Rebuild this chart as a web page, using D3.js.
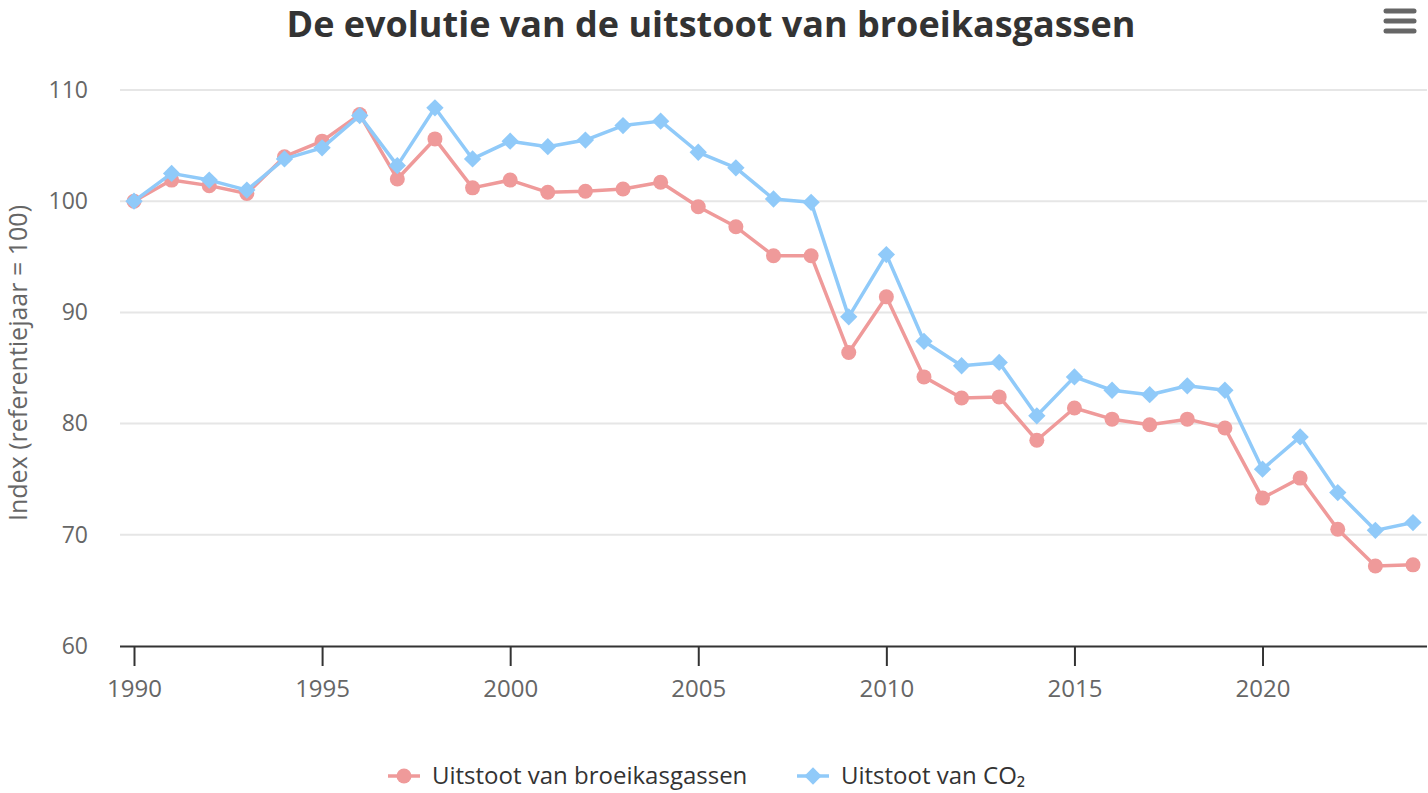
<!DOCTYPE html>
<html>
<head>
<meta charset="utf-8">
<script src="https://d3js.org/d3.v7.min.js"></script>
<style>
  body { margin: 0; background: #fff; }
  svg { display: block; font-family: "Open Sans", "Noto Sans", sans-serif; }
</style>
</head>
<body>
<svg width="1428" height="793"></svg>
<script>
// data
var years = d3.range(1990, 2025);
var ghg = [100.0, 101.9, 101.4, 100.7, 104.0, 105.4, 107.8, 102.0, 105.6, 101.2,
           101.9, 100.8, 100.9, 101.1, 101.7, 99.5, 97.7, 95.1, 95.1, 86.4,
           91.4, 84.2, 82.3, 82.4, 78.5, 81.4, 80.4, 79.9, 80.4, 79.6,
           73.3, 75.1, 70.5, 67.2, 67.3];
var co2 = [100.0, 102.5, 101.9, 101.0, 103.8, 104.8, 107.7, 103.2, 108.4, 103.8,
           105.4, 104.9, 105.5, 106.8, 107.2, 104.4, 103.0, 100.2, 99.9, 89.6,
           95.2, 87.4, 85.2, 85.5, 80.7, 84.2, 83.0, 82.6, 83.4, 83.0,
           75.9, 78.8, 73.8, 70.4, 71.1];
var yTicks = [60, 70, 80, 90, 100, 110];
var xTicks = [1990, 1995, 2000, 2005, 2010, 2015, 2020];
var seriesNames = ["Uitstoot van broeikasgassen", "Uitstoot van CO\u2082"];
var colors = ["#ef9a9a", "#90caf9"];

var svg = d3.select("svg");
var plotLeft = 120, plotRight = 1427, plotTop = 90, plotBottom = 646;

var x = d3.scaleLinear().domain([1990, 2024]).range([134, 1413]);
var y = d3.scaleLinear().domain([60, 110]).range([plotBottom, plotTop]);

// title
svg.append("text")
  .attr("x", 711)
  .attr("y", 37)
  .attr("text-anchor", "middle")
  .attr("font-size", "36px")
  .attr("font-weight", "bold")
  .attr("fill", "#333")
  .text("De evolutie van de uitstoot van broeikasgassen");

// hamburger menu
var menu = svg.append("g");
[11, 21, 31].forEach(function(d) {
  menu.append("line")
    .attr("x1", 1386).attr("x2", 1414)
    .attr("y1", d).attr("y2", d)
    .attr("stroke", "#666")
    .attr("stroke-width", 5)
    .attr("stroke-linecap", "round");
});

// grid lines
svg.append("g")
  .selectAll("line")
  .data(yTicks.slice(1))
  .enter().append("line")
  .attr("x1", plotLeft).attr("x2", plotRight)
  .attr("y1", function(d) { return y(d); })
  .attr("y2", function(d) { return y(d); })
  .attr("stroke", "#e6e6e6")
  .attr("stroke-width", 2);

// y axis labels
var yAxis = svg.append("g")
  .attr("transform", "translate(" + 88 + ",0)")
  .call(d3.axisLeft(y).tickValues(yTicks).tickSize(0).tickPadding(0));
yAxis.select(".domain").remove();
yAxis.selectAll("text")
  .attr("font-size", "23px")
  .attr("font-family", "Open Sans, sans-serif")
  .attr("fill", "#666");

// y axis title
svg.append("text")
  .attr("transform", "translate(" + 27 + "," + 363 + ") rotate(-90)")
  .attr("text-anchor", "middle")
  .attr("font-size", "25px")
  .attr("fill", "#666")
  .text("Index (referentiejaar = 100)");

// x axis
var xAxis = svg.append("g")
  .attr("transform", "translate(0," + plotBottom + ")")
  .call(d3.axisBottom(x).tickValues(xTicks).tickFormat(d3.format("d")).tickSize(20).tickSizeOuter(0).tickPadding(14));
xAxis.select(".domain")
  .attr("d", "M" + plotLeft + ",0.5H" + plotRight)
  .attr("stroke", "#333")
  .attr("stroke-width", 2);
xAxis.selectAll(".tick line").attr("stroke", "#333").attr("stroke-width", 2);
xAxis.selectAll("text")
  .attr("font-size", "24px")
  .attr("font-family", "Open Sans, sans-serif")
  .attr("fill", "#666");

var line = d3.line()
  .x(function(d, i) { return x(years[i]); })
  .y(function(d) { return y(d); });

var diamond = d3.symbol().type(d3.symbolSquare).size(150);

[ghg, co2].forEach(function(vals, s) {
  svg.append("path")
    .datum(vals)
    .attr("fill", "none")
    .attr("stroke", colors[s])
    .attr("stroke-width", 3.5)
    .attr("stroke-linejoin", "round")
    .attr("d", line);

  var marks = svg.append("g").selectAll(".pt").data(vals).enter();
  if (s === 0) {
    marks.append("circle")
      .attr("cx", function(d, i) { return x(years[i]); })
      .attr("cy", function(d) { return y(d); })
      .attr("r", 7.5)
      .attr("fill", colors[s]);
  } else {
    marks.append("path")
      .attr("d", diamond)
      .attr("transform", function(d, i) { return "translate(" + x(years[i]) + "," + y(d) + ") rotate(45)"; })
      .attr("fill", colors[s]);
  }
});

// legend
var legend = svg.append("g");
var legendX = [388, 797];
seriesNames.forEach(function(name, s) {
  var g = legend.append("g").attr("transform", "translate(" + legendX[s] + ",776)");
  g.append("line")
    .attr("x1", 0).attr("x2", 32)
    .attr("stroke", colors[s]).attr("stroke-width", 3.5);
  if (s === 0) {
    g.append("circle").attr("cx", 16).attr("r", 7.5).attr("fill", colors[s]);
  } else {
    g.append("path").attr("d", diamond).attr("transform", "translate(16,0) rotate(45)").attr("fill", colors[s]);
  }
  g.append("text")
    .attr("x", 44)
    .attr("y", 8)
    .attr("font-size", "24px")
    .attr("fill", "#333")
    .text(name);
});
</script>
</body>
</html>
